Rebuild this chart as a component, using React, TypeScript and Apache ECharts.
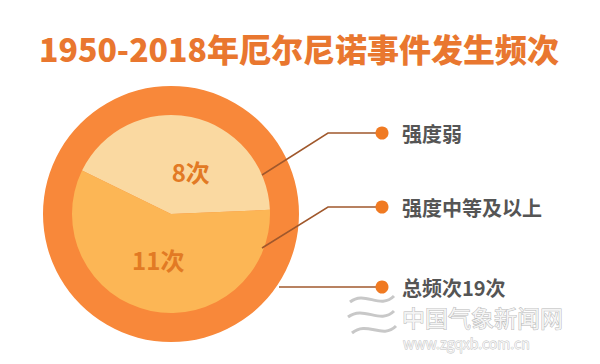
import React, { useEffect, useRef } from "react";
import * as echarts from "echarts";

const categories = ["强度弱", "强度中等及以上"];
const values = [8, 11];
const unit = "次";
const titleText = "1950-2018年厄尔尼诺事件发生频次";
const totalLabel = "总频次";

const sliceColors = ["#FAD9A1", "#FCB655"];
const ringColor = "#F8883A";
const labelShift = [
  [9, 9],
  [-2, -6],
];

export default function App() {
  const ref = useRef<HTMLDivElement>(null);
  useEffect(() => {
    const chart = echarts.init(ref.current!, null, { renderer: "svg" });
    const total = values.reduce((a, b) => a + b, 0);
    const legendTexts = [...categories, `${totalLabel}${total}${unit}`];
    const legendY = [133, 207, 287];
    const leaderColor = "#A0582C";
    const font = '"Noto Sans CJK SC", "Noto Sans", sans-serif';
    chart.setOption({
      animation: false,
      backgroundColor: "#ffffff",
      title: {
        text: titleText,
        left: 294,
        textAlign: "center",
        top: 27,
        textStyle: {
          color: "#E9772F",
          fontSize: 32,
          fontWeight: 900,
          fontFamily: font,
        },
      },
      series: [
        {
          type: "pie",
          silent: true,
          center: [171, 214],
          radius: [0, 128],
          data: [{ value: total, name: "总", itemStyle: { color: ringColor } }],
          label: { show: false },
          labelLine: { show: false },
          z: 1,
        },
        {
          type: "pie",
          silent: true,
          center: [171, 214],
          radius: [0, 99],
          startAngle: 154,
          clockwise: true,
          data: categories.map((c, i) => ({
            name: c,
            value: values[i],
            itemStyle: { color: sliceColors[i] },
          })),
          label: {
            show: true,
            position: "inside",
            formatter: (p: any) => `${p.value}${unit}`,
            color: "#E27A24",
            fontSize: 24,
            fontWeight: "bold",
            fontFamily: font,
          },
          labelLayout: (p: any) => ({
            dx: labelShift[p.dataIndex][0],
            dy: labelShift[p.dataIndex][1],
          }),
          labelLine: { show: false },
          z: 2,
        },
      ],
      graphic: [
        {
          type: "polyline",
          shape: { points: [[262, 175], [328, 133], [382, 133]] },
          style: { stroke: leaderColor, lineWidth: 1.5, fill: null },
          z: 10,
        },
        {
          type: "polyline",
          shape: { points: [[262, 248], [328, 207], [382, 207]] },
          style: { stroke: leaderColor, lineWidth: 1.5, fill: null },
          z: 10,
        },
        {
          type: "polyline",
          shape: { points: [[279, 287], [382, 287]] },
          style: { stroke: leaderColor, lineWidth: 1.5, fill: null },
          z: 10,
        },
        ...legendY.map((y) => ({
          type: "circle",
          shape: { cx: 382, cy: y, r: 6.5 },
          style: { fill: "#F07A22" },
          z: 11,
        })),
        ...legendTexts.map((t, i) => ({
          type: "text",
          x: 402,
          y: legendY[i],
          style: {
            text: t,
            fill: "#555555",
            font: `bold 20px ${font}`,
            textVerticalAlign: "middle",
          },
          z: 11,
        })),
        {
          type: "text",
          x: 402,
          y: 317,
          style: {
            text: "中国气象新闻网",
            fill: "#F4F4F4",
            stroke: "#B8B8B8",
            lineWidth: 1,
            font: `23px ${font}`,
            textVerticalAlign: "middle",
          },
          z: 5,
        },
        {
          type: "text",
          x: 403,
          y: 343,
          style: {
            text: "www.zgqxb.com.cn",
            fill: "#F4F4F4",
            stroke: "#C0C0C0",
            lineWidth: 0.8,
            font: `14px ${font}`,
            textVerticalAlign: "middle",
          },
          z: 5,
        },
        {
          type: "bezierCurve",
          shape: { x1: 350, y1: 302, x2: 394, y2: 296, cpx1: 365, cpy1: 290, cpx2: 380, cpy2: 310 },
          style: { stroke: "#C8C8C8", lineWidth: 3, fill: null },
        },
        {
          type: "bezierCurve",
          shape: { x1: 348, y1: 317, x2: 394, y2: 311, cpx1: 364, cpy1: 305, cpx2: 380, cpy2: 325 },
          style: { stroke: "#C8C8C8", lineWidth: 3, fill: null },
        },
        {
          type: "bezierCurve",
          shape: { x1: 352, y1: 333, x2: 396, y2: 326, cpx1: 367, cpy1: 320, cpx2: 382, cpy2: 340 },
          style: { stroke: "#C8C8C8", lineWidth: 3, fill: null },
        },
      ],
    });
    return () => chart.dispose();
  }, []);
  return (
    <div
      ref={ref}
      style={{ position: "fixed", left: 0, top: 0, width: 600, height: 364 }}
    />
  );
}
